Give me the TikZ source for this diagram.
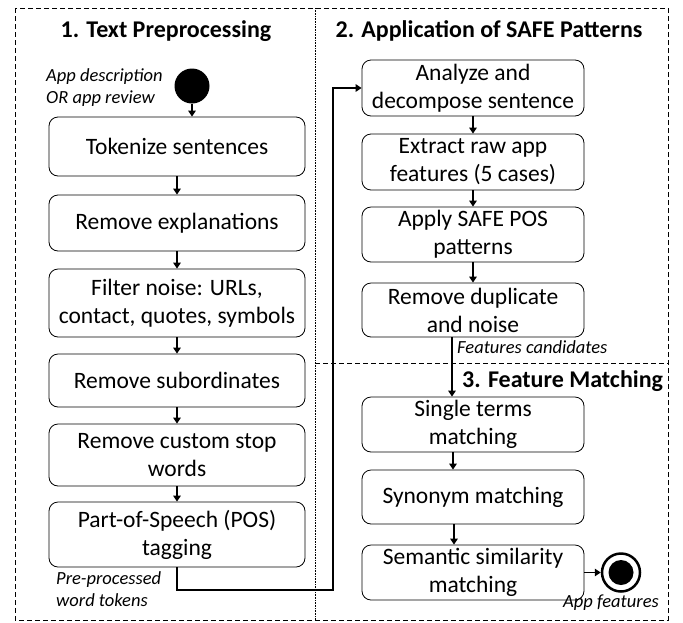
\documentclass[tikz,border=0pt]{standalone}
\usepackage{fontspec}
\setmainfont{Carlito}
\usetikzlibrary{arrows.meta}
\begin{document}
\begin{tikzpicture}[x=1pt,y=-1pt,
    procbox/.style={draw, rectangle, rounded corners=9pt, line width=0.8pt, align=center, inner sep=1pt,
        font=\fontsize{23.5}{28}\selectfont},
    arr/.style={-{Triangle[length=6pt,width=7.5pt]}, line width=1.6pt},
    lbl/.style={font=\fontsize{18.5}{22}\selectfont\itshape, align=left, inner sep=0pt},
    ttl/.style={font=\fontsize{24}{28}\selectfont\bfseries, inner sep=0pt}]
    \useasboundingbox (0,0) rectangle (683,622);
    \draw[dash pattern=on 5pt off 3pt, line width=0.7pt] (15,8) rectangle (668,620);
    \draw[dash pattern=on 1pt off 0.6pt, line width=0.7pt] (315,8) -- (315,620);
    \draw[dash pattern=on 5pt off 3pt, line width=0.7pt] (315,363) -- (668,363);

    \node[ttl] (T1) at (166,31) {1. Text Preprocessing};
    \node[ttl] (T2) at (489,31) {2. Application of SAFE Patterns};
    \node[ttl, anchor=west] (T3) at (462,381) {3. Feature Matching};

    \node[circle, fill, inner sep=0pt, minimum size=35pt] (start) at (192,86) {};
    \node[lbl, anchor=west] (in) at (46,88) {App description\\OR app review};

    \node[procbox, minimum width=256pt, minimum height=59pt] (tok) at (177,146.5) {Tokenize sentences};
    \node[procbox, minimum width=256pt, minimum height=56pt] (expl) at (177,223) {Remove explanations};
    \node[procbox, minimum width=256pt, minimum height=68pt] (filt) at (177,303) {Filter noise: URLs,\\contact, quotes, symbols};
    \node[procbox, minimum width=256pt, minimum height=53pt] (subo) at (177,380.5) {Remove subordinates};
    \node[procbox, minimum width=256pt, minimum height=62pt] (stop) at (177,455) {Remove custom stop\\words};
    \node[procbox, minimum width=256pt, minimum height=65pt] (pos) at (177,534.5) {Part-of-Speech (POS)\\tagging};
    \node[lbl, anchor=west] (tokens) at (56,589) {Pre-processed\\word tokens};

    \node[procbox, minimum width=222pt, minimum height=56pt] (ana) at (473,88) {Analyze and\\decompose sentence};
    \node[procbox, minimum width=222pt, minimum height=56pt] (ext) at (473,162) {Extract raw app\\features (5 cases)};
    \node[procbox, minimum width=222pt, minimum height=55pt] (safe) at (473,234.5) {Apply SAFE POS\\patterns};
    \node[procbox, minimum width=222pt, minimum height=54pt] (dup) at (473,310) {Remove duplicate\\and noise};
    \node[lbl, anchor=west] (cand) at (457,347) {Features candidates};

    \node[procbox, minimum width=222pt, minimum height=55pt] (sgl) at (473,424.5) {Single terms\\matching};
    \node[procbox, minimum width=222pt, minimum height=54pt] (syn) at (473,497) {Synonym matching};
    \node[procbox, minimum width=222pt, minimum height=55pt] (sem) at (473,572.5) {Semantic similarity\\matching};

    \node[circle, draw, line width=2.5pt, inner sep=0pt, minimum size=38pt] (end) at (621,572.5) {};
    \node[circle, fill, inner sep=0pt, minimum size=25pt] (endin) at (end) {};
    \node[lbl, anchor=east] (out) at (659,603) {App features};

    \draw[arr] (start) -- (start |- tok.north);
    \draw[arr] (tok) -- (expl);
    \draw[arr] (expl) -- (filt);
    \draw[arr] (filt) -- (subo);
    \draw[arr] (subo) -- (stop);
    \draw[arr] (stop) -- (pos);

    \coordinate (turn) at (333,590);
    \draw[arr, line width=2pt, rounded corners=0pt] (pos.south) |- (turn) |- (ana.west);

    \draw[arr] (ana) -- (ext);
    \draw[arr] (ext) -- (safe);
    \draw[arr] (safe) -- (dup);
    \draw[arr] ([xshift=-21pt]dup.south) -- ([xshift=-21pt]sgl.north);
    \draw[arr] ([xshift=-20pt]sgl.south) -- ([xshift=-20pt]syn.north);
    \draw[arr] ([xshift=-19pt]syn.south) -- ([xshift=-19pt]sem.north);
    \draw[arr] (sem) -- (end);
\end{tikzpicture}
\end{document}
